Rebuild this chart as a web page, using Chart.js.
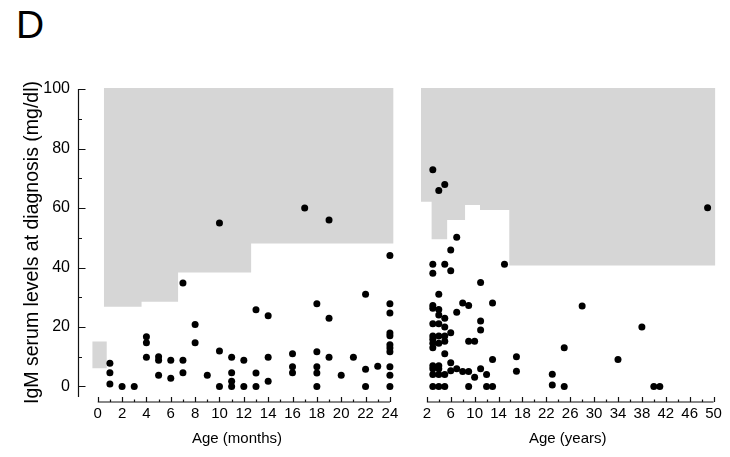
<!DOCTYPE html>
<html>
<head>
<meta charset="utf-8">
<script src="https://cdn.jsdelivr.net/npm/chart.js@4"></script>
<style>
  body { margin: 0; background: #fff; }
  .figure { position: relative; width: 730px; height: 457px; font-family: "Liberation Sans", Arial, sans-serif; }
  .panel-label { position: absolute; left: 16px; top: 5px; font-size: 39px; line-height: 1; color: #000; }
  .panel { position: absolute; top: 0; height: 457px; }
  #monthsBox { left: 0; width: 410px; }
  #yearsBox { left: 410px; width: 320px; }
</style>
</head>
<body>
<div class="figure">
  <div class="panel-label">D</div>
  <div class="panel" id="monthsBox"><canvas id="monthsChart"></canvas></div>
  <div class="panel" id="yearsBox"><canvas id="yearsChart"></canvas></div>
</div>
<script>
// Patients diagnosed before 2 years: age (months) and IgM (mg/dl)
const monthAges = [1, 1, 1, 2, 3, 4, 4, 4, 5, 5, 5, 6, 6, 7, 7, 7, 8, 8, 9,
  10, 10, 10, 11, 11, 11, 11, 12, 12, 13, 13, 13, 14, 14, 14, 16, 16, 16, 17,
  18, 18, 18, 18, 18, 19, 19, 19, 20, 21, 22, 22, 22, 23,
  24, 24, 24, 24, 24, 24, 24, 24, 24, 24, 24];
const monthIgM = [7.8, 4.6, 0.8, 0, 0, 16.7, 14.7, 9.8, 10.0, 8.8, 3.8, 8.8, 2.8, 34.8, 8.8, 4.6, 20.8, 14.7, 3.8,
  55.0, 11.9, 0, 9.8, 4.6, 1.8, 0, 8.8, 0, 25.8, 4.5, 0, 23.8, 9.8, 1.8, 11.0, 6.6, 4.6, 60.0,
  27.8, 11.7, 6.6, 4.5, 0, 56.0, 22.9, 9.8, 3.8, 9.8, 31.0, 5.8, 0, 6.8,
  44.0, 27.8, 24.7, 18.0, 17.1, 14.0, 12.9, 11.7, 6.6, 3.8, 0];

// Patients diagnosed at 2 years or later: age (years) and IgM (mg/dl)
const yearAges = [3, 3, 3, 3, 3, 3, 3, 3, 3, 3, 3, 3, 3, 3,
  4, 4, 4, 4, 4, 4, 4, 4, 4, 4, 4,
  5, 5, 5, 5, 5, 5, 5, 5, 5,
  6, 6, 6, 6, 6, 7, 7, 7, 8, 8, 9, 9, 9, 9, 10, 10,
  11, 11, 11, 11, 12, 12, 13, 13, 13, 15, 17, 17,
  23, 23, 25, 25, 28, 34, 38, 40, 41, 49];
const yearIgM = [72.9, 41.1, 38.1, 27.2, 26.3, 21.1, 17.0, 15.9, 14.5, 13.0, 7.0, 6.0, 4.0, 0,
  65.9, 31.0, 25.9, 24.0, 21.1, 17.0, 14.5, 7.0, 6.0, 4.0, 0,
  67.9, 41.1, 22.9, 20.0, 17.0, 15.2, 11.0, 4.0, 0,
  45.9, 38.9, 18.1, 8.0, 5.3, 50.2, 25.0, 6.0, 28.1, 5.0, 27.2, 15.2, 5.0, 0, 15.2, 3.1,
  35.0, 22.0, 19.0, 6.0, 4.0, 0, 28.1, 9.1, 0, 41.1, 10.0, 5.1,
  4.1, 0.5, 13.0, 0, 27.1, 9.1, 20.0, 0, 0, 60.1];

// Age-related upper limit of normal IgM: each value holds from its age to the next
const monthLimitAges = [0.5, 3.6, 6.6, 12.6, 24.3];
const monthLimitIgM = [26.8, 28.5, 38.3, 48.1, 48.1];
const yearLimitAges = [1.0, 2.8, 5.4, 8.4, 10.9, 15.8, 50.3];
const yearLimitIgM = [62.1, 49.5, 56.0, 61.0, 59.3, 40.7, 40.7];

// Normal range in newborns
const newbornAges = [-0.45, 0.75];
const newbornLow = [6.1, 6.1];
const newbornHigh = [15.1, 15.1];

// Axis ticks and which of them carry a label
const monthTicks = [0, 1, 2, 3, 4, 5, 6, 7, 8, 9, 10, 11, 12, 13, 14, 15, 16, 17, 18, 19, 20, 21, 22, 23, 24];
const monthLabeled = [0, 2, 4, 6, 8, 10, 12, 14, 16, 18, 20, 22, 24];
const yearTicks = [2, 4, 6, 8, 10, 12, 14, 16, 18, 20, 22, 24, 26, 28, 30, 32, 34, 36, 38, 40, 42, 44, 46, 48, 50];
const yearLabeled = [2, 6, 10, 14, 18, 22, 26, 30, 34, 38, 42, 46, 50];
const igmTicks = [0, 10, 20, 30, 40, 50, 60, 70, 80, 90, 100];
const igmLabeled = [0, 20, 40, 60, 80, 100];

const GRAY = '#d6d6d6';
const FONT = "'Liberation Sans', Arial, sans-serif";

const toPoints = (xs, ys) => xs.map((x, i) => ({ x: x, y: ys[i] }));

// Turn "value holds until next age" into a step outline
function toSteps(xs, ys) {
  const pts = [];
  for (let i = 0; i < xs.length - 1; i++) {
    pts.push({ x: xs[i], y: ys[i] }, { x: xs[i + 1], y: ys[i] });
  }
  return pts;
}

// Offset axis lines with inward tick marks, drawn from the chart's scales
function makeAxisPlugin(xTicks, xLabeled, withY) {
  return {
    id: 'offsetAxes',
    afterDraw(chart) {
      const { ctx, chartArea, scales } = chart;
      const x = scales.x, y = scales.y;
      ctx.save();
      ctx.strokeStyle = '#111';
      ctx.lineWidth = 1.2;
      ctx.beginPath();
      const ay = chartArea.bottom + 5;
      ctx.moveTo(x.getPixelForValue(xTicks[0]), ay);
      ctx.lineTo(x.getPixelForValue(xTicks[xTicks.length - 1]), ay);
      xTicks.forEach(v => {
        const px = Math.round(x.getPixelForValue(v)) + 0.5;
        ctx.moveTo(px, ay);
        ctx.lineTo(px, ay - (xLabeled.includes(v) ? 5 : 2.5));
      });
      if (withY) {
        const ax = Math.round(chartArea.left) + 0.5;
        ctx.moveTo(ax, y.getPixelForValue(100));
        ctx.lineTo(ax, chartArea.bottom);
        igmTicks.forEach(v => {
          const py = Math.round(y.getPixelForValue(v)) + 0.5;
          ctx.moveTo(ax, py);
          ctx.lineTo(ax + (igmLabeled.includes(v) ? 7 : 3.5), py);
        });
      }
      ctx.stroke();
      ctx.restore();
    }
  };
}

function xScale(min, max, ticks, labeled, title) {
  return {
    type: 'linear',
    min: min,
    max: max,
    grid: { display: false, drawTicks: false },
    border: { display: false },
    afterBuildTicks: axis => { axis.ticks = ticks.map(v => ({ value: v })); },
    afterFit: axis => { axis.height = 60; },
    ticks: {
      autoSkip: false,
      maxRotation: 0,
      padding: 8,
      color: '#000',
      font: { family: FONT, size: 15 },
      callback: v => labeled.includes(v) ? String(v) : ''
    },
    title: {
      display: true,
      text: title,
      color: '#000',
      font: { family: FONT, size: 15 },
      padding: { top: 0, bottom: 9 }
    }
  };
}

const yRange = { min: -3.53, max: 100.34 };

function dataSets(ages, igm, limitAges, limitIgM, withNewborn) {
  const sets = [
    { data: toPoints(ages, igm), backgroundColor: '#000', borderWidth: 0, pointRadius: 3.5 },
    { type: 'line', data: toSteps(limitAges, limitIgM), fill: 'end',
      backgroundColor: GRAY, borderColor: GRAY, borderWidth: 0, pointRadius: 0 }
  ];
  if (withNewborn) {
    sets.push(
      { type: 'line', data: toPoints(newbornAges, newbornLow), fill: false,
        borderColor: GRAY, borderWidth: 0, pointRadius: 0 },
      { type: 'line', data: toPoints(newbornAges, newbornHigh), fill: '-1',
        backgroundColor: GRAY, borderColor: GRAY, borderWidth: 0, pointRadius: 0 }
    );
  }
  return sets;
}

const common = {
  responsive: true,
  maintainAspectRatio: false,
  animation: false,
  plugins: { legend: { display: false }, tooltip: { enabled: false } }
};

new Chart(document.getElementById('monthsChart'), {
  type: 'scatter',
  data: { datasets: dataSets(monthAges, monthIgM, monthLimitAges, monthLimitIgM, true) },
  options: Object.assign({}, common, {
    layout: { padding: { top: 88, right: 14, left: 0, bottom: 0 } },
    scales: {
      x: xScale(-1.62, 24.5, monthTicks, monthLabeled, 'Age (months)'),
      y: {
        min: yRange.min,
        max: yRange.max,
        grid: { display: false, drawTicks: false },
        border: { display: false },
        afterBuildTicks: axis => { axis.ticks = igmTicks.map(v => ({ value: v })); },
        afterFit: axis => { axis.width = 78; },
        ticks: {
          padding: 8,
          color: '#000',
          font: { family: FONT, size: 16 },
          callback: v => igmLabeled.includes(v) ? String(v) : ''
        },
        title: {
          display: true,
          text: 'IgM serum levels at diagnosis (mg/dl)',
          color: '#000',
          font: { family: FONT, size: 19.5 },
          padding: { top: 21, bottom: 0 }
        }
      }
    }
  }),
  plugins: [makeAxisPlugin(monthTicks, monthLabeled, true)]
});

new Chart(document.getElementById('yearsChart'), {
  type: 'scatter',
  data: { datasets: dataSets(yearAges, yearIgM, yearLimitAges, yearLimitIgM, false) },
  options: Object.assign({}, common, {
    layout: { padding: { top: 88, right: 7, left: 8, bottom: 0 } },
    scales: {
      x: xScale(0.52, 50.66, yearTicks, yearLabeled, 'Age (years)'),
      y: { display: false, min: yRange.min, max: yRange.max }
    }
  }),
  plugins: [makeAxisPlugin(yearTicks, yearLabeled, false)]
});
</script>
</body>
</html>
